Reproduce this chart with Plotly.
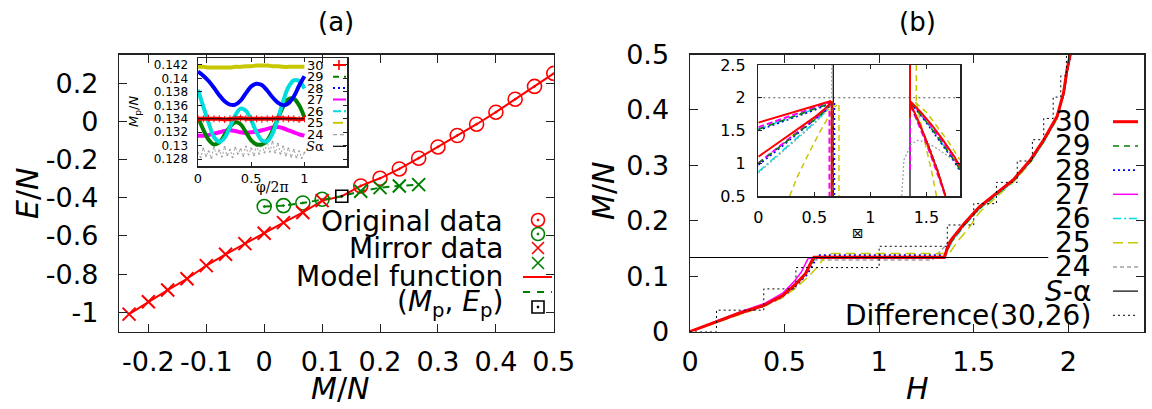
import plotly.graph_objects as go

W, HGT = 1152, 409
FONT = "DejaVu Sans"


def fx(p):
    return p / W


def fy(p):
    return 1 - p / HGT


# ---------------- Panel (a): main data ----------------
orig_red_M = [0.1667, 0.2, 0.2333, 0.2667, 0.3, 0.3333, 0.3667, 0.4, 0.4333, 0.4667, 0.5]
orig_red_E = [-0.338, -0.298, -0.249, -0.193, -0.134, -0.074, -0.015, 0.048, 0.116, 0.183, 0.251]
mirror_red_M = [-0.2333, -0.2, -0.1667, -0.1333, -0.1, -0.0667, -0.0333, 0.0, 0.0333, 0.0667, 0.1]
mirror_red_E = [-1.009, -0.944, -0.883, -0.824, -0.755, -0.696, -0.640, -0.586, -0.530, -0.477, -0.415]
orig_green_M = [0.0, 0.0333, 0.0667, 0.1]
orig_green_E = [-0.446, -0.441, -0.427, -0.408]
mirror_green_M = [0.1667, 0.2, 0.2333, 0.2667]
mirror_green_E = [-0.366, -0.347, -0.338, -0.331]
Mp_val = [0.134]
Ep_val = [-0.392]

a_xticks = [-0.2, -0.1, 0, 0.1, 0.2, 0.3, 0.4, 0.5]
a_xlabels = ["-0.2", "-0.1", "0", "0.1", "0.2", "0.3", "0.4", "0.5"]
a_yticks = [0.2, 0, -0.2, -0.4, -0.6, -0.8, -1]
a_ylabels = ["0.2", "0", "-0.2", "-0.4", "-0.6", "-0.8", "-1"]

# ---------------- Panel (a): inset data ----------------
phi = [0, 0.05, 0.1, 0.15, 0.2, 0.25, 0.3, 0.35, 0.4, 0.45, 0.5,
       0.55, 0.6, 0.65, 0.7, 0.75, 0.8, 0.85, 0.9, 0.95, 1.0]
mp30 = [0.1340, 0.1340, 0.1341, 0.1340, 0.1340, 0.1339, 0.1340, 0.1340, 0.1341, 0.1340, 0.1340,
        0.1340, 0.1339, 0.1340, 0.1340, 0.1341, 0.1340, 0.1340, 0.1340, 0.1339, 0.1340]
mp29 = [0.1342, 0.1324, 0.1309, 0.1302, 0.1305, 0.1316, 0.1328, 0.1335, 0.1332, 0.1320, 0.1308,
        0.1302, 0.1302, 0.1308, 0.1322, 0.1340, 0.1358, 0.1369, 0.1370, 0.1360, 0.1342]
mp28 = [0.1410, 0.1404, 0.1396, 0.1386, 0.1375, 0.1366, 0.1361, 0.1361, 0.1367, 0.1378, 0.1388,
        0.1392, 0.1390, 0.1382, 0.1372, 0.1364, 0.1360, 0.1363, 0.1373, 0.1389, 0.1403]
mp27 = [0.1315, 0.1315, 0.1316, 0.1318, 0.1320, 0.1322, 0.1323, 0.1322, 0.1320, 0.1319, 0.1320,
        0.1321, 0.1323, 0.1325, 0.1327, 0.1328, 0.1326, 0.1323, 0.1320, 0.1317, 0.1315]
mp26 = [0.1383, 0.1358, 0.1334, 0.1313, 0.1306, 0.1312, 0.1328, 0.1345, 0.1355, 0.1352, 0.1338,
        0.1320, 0.1308, 0.1307, 0.1318, 0.1340, 0.1366, 0.1387, 0.1397, 0.1396, 0.1385]
mp25 = [0.1417, 0.1417, 0.1416, 0.1416, 0.1416, 0.1416, 0.1416, 0.1417, 0.1417, 0.1418, 0.1418,
        0.1419, 0.1419, 0.1419, 0.1418, 0.1418, 0.1417, 0.1417, 0.1417, 0.1417, 0.1417]
phi_fine = [0, 0.025, 0.05, 0.075, 0.1, 0.125, 0.15, 0.175, 0.2, 0.225, 0.25, 0.275, 0.3, 0.325,
            0.35, 0.375, 0.4, 0.425, 0.45, 0.475, 0.5, 0.525, 0.55, 0.575, 0.6, 0.625, 0.65,
            0.675, 0.7, 0.725, 0.75, 0.775, 0.8, 0.825, 0.85, 0.875, 0.9, 0.925, 0.95, 0.975, 1.0]
mp24 = [0.1290, 0.1283, 0.1296, 0.1285, 0.1292, 0.1282, 0.1297, 0.1287, 0.1293, 0.1284, 0.1298,
        0.1286, 0.1294, 0.1283, 0.1297, 0.1288, 0.1295, 0.1285, 0.1299, 0.1287, 0.1296, 0.1286,
        0.1300, 0.1288, 0.1302, 0.1290, 0.1305, 0.1291, 0.1306, 0.1290, 0.1303, 0.1288, 0.1299,
        0.1286, 0.1296, 0.1284, 0.1294, 0.1283, 0.1292, 0.1282, 0.1290]
sa_phi = [0, 1.0]
sa_mp = [0.1340, 0.1340]

ain_xticks = [0, 0.5, 1]
ain_xlabels = ["0", "0.5", "1"]
ain_yticks = [0.128, 0.130, 0.132, 0.134, 0.136, 0.138, 0.140, 0.142]
ain_ylabels = ["0.128", "0.13", "0.132", "0.134", "0.136", "0.138", "0.14", "0.142"]

# ---------------- Panel (b): main data ----------------
H30 = [0, 0.14, 0.26, 0.39, 0.49, 0.56, 0.61, 0.64, 0.655, 1.345, 1.36, 1.38, 1.45, 1.53, 1.62, 1.71, 1.80, 1.87, 1.94, 1.975, 1.993, 2.01]
M30 = [0, 0.018, 0.033, 0.047, 0.065, 0.086, 0.104, 0.125, 0.134, 0.134, 0.150, 0.165, 0.195, 0.225, 0.249, 0.274, 0.310, 0.346, 0.388, 0.431, 0.473, 0.5]
H29 = [0, 0.14, 0.26, 0.39, 0.49, 0.56, 0.61, 0.645, 0.66, 1.345, 1.36, 1.39, 1.45, 1.53, 1.62, 1.71, 1.80, 1.87, 1.94, 1.975, 1.995, 2.01]
M29 = [0, 0.017, 0.032, 0.046, 0.064, 0.084, 0.102, 0.124, 0.133, 0.133, 0.148, 0.166, 0.192, 0.222, 0.247, 0.272, 0.307, 0.343, 0.385, 0.428, 0.470, 0.5]
H28 = [0, 0.14, 0.26, 0.39, 0.49, 0.56, 0.62, 0.66, 0.68, 1.35, 1.365, 1.39, 1.45, 1.53, 1.62, 1.71, 1.80, 1.87, 1.94, 1.975, 1.995, 2.015]
M28 = [0, 0.017, 0.032, 0.046, 0.063, 0.083, 0.103, 0.127, 0.138, 0.138, 0.152, 0.168, 0.193, 0.223, 0.248, 0.273, 0.308, 0.344, 0.386, 0.429, 0.471, 0.5]
H27 = [0, 0.14, 0.26, 0.39, 0.49, 0.55, 0.59, 0.61, 0.625, 1.345, 1.355, 1.38, 1.45, 1.53, 1.62, 1.71, 1.80, 1.87, 1.94, 1.975, 1.993, 2.01]
M27 = [0, 0.019, 0.035, 0.050, 0.069, 0.090, 0.108, 0.122, 0.132, 0.132, 0.150, 0.166, 0.196, 0.226, 0.250, 0.275, 0.311, 0.347, 0.389, 0.432, 0.474, 0.5]
H26 = [0, 0.14, 0.26, 0.39, 0.49, 0.56, 0.61, 0.645, 0.665, 1.35, 1.365, 1.39, 1.45, 1.53, 1.62, 1.71, 1.80, 1.87, 1.94, 1.975, 1.995, 2.012]
M26 = [0, 0.018, 0.032, 0.046, 0.064, 0.085, 0.103, 0.125, 0.134, 0.134, 0.149, 0.164, 0.191, 0.221, 0.246, 0.271, 0.306, 0.342, 0.384, 0.427, 0.469, 0.5]
H25 = [0, 0.14, 0.26, 0.39, 0.49, 0.56, 0.62, 0.67, 0.71, 0.73, 1.37, 1.39, 1.42, 1.47, 1.53, 1.62, 1.71, 1.80, 1.87, 1.94, 1.975, 1.995, 2.012]
M25 = [0, 0.016, 0.031, 0.045, 0.061, 0.079, 0.097, 0.115, 0.133, 0.141, 0.141, 0.150, 0.165, 0.185, 0.215, 0.243, 0.270, 0.305, 0.342, 0.384, 0.428, 0.470, 0.5]
H24 = [0, 0.14, 0.26, 0.39, 0.49, 0.56, 0.61, 0.64, 0.655, 1.28, 1.31, 1.35, 1.40, 1.45, 1.53, 1.62, 1.71, 1.80, 1.87, 1.94, 1.975, 1.995, 2.012]
M24 = [0, 0.018, 0.033, 0.047, 0.065, 0.086, 0.104, 0.122, 0.129, 0.129, 0.140, 0.155, 0.175, 0.193, 0.223, 0.248, 0.273, 0.308, 0.344, 0.386, 0.429, 0.471, 0.5]
Hsa = [0, 1.894]
Msa = [0.1336, 0.1336]
Hdiff = [0.0, 0.14, 0.39, 0.56, 1.00, 1.36, 1.50, 1.62, 1.73, 1.81, 1.87, 1.92, 1.96, 1.99]
Mdiff = [0.0, 0.0385, 0.0769, 0.1154, 0.1538, 0.1923, 0.2308, 0.2692, 0.3077, 0.3462, 0.3846, 0.4231, 0.4615, 0.5]

b_xticks = [0, 0.5, 1, 1.5, 2]
b_xlabels = ["0", "0.5", "1", "1.5", "2"]
b_yticks = [0, 0.1, 0.2, 0.3, 0.4, 0.5]
b_ylabels = ["0", "0.1", "0.2", "0.3", "0.4", "0.5"]

# ---------------- Panel (b): inset data ----------------
XL = [0, 0.1, 0.2, 0.3, 0.4, 0.5, 0.6, 0.65]
XR = [1.36, 1.45, 1.55, 1.65, 1.75, 1.8]
XRL = [1.36, 1.42, 1.48, 1.54, 1.60, 1.67]
in30_up = [1.62, 1.67, 1.72, 1.77, 1.82, 1.87, 1.92, 1.95]
in30_lo = [1.10, 1.22, 1.34, 1.46, 1.58, 1.70, 1.84, 1.93]
in30_rup = [1.94, 1.78, 1.58, 1.35, 1.10, 0.95]
in30_rlo = [1.90, 1.68, 1.43, 1.17, 0.88, 0.50]
in29_up = [1.52, 1.58, 1.64, 1.70, 1.76, 1.82, 1.89, 1.93]
in29_lo = [1.00, 1.13, 1.26, 1.40, 1.53, 1.66, 1.81, 1.92]
in29_rup = [1.92, 1.74, 1.52, 1.28, 1.04, 0.90]
in29_rlo = [1.90, 1.67, 1.43, 1.17, 0.89, 0.50]
in28_up = [1.50, 1.56, 1.62, 1.69, 1.75, 1.81, 1.88, 1.92]
in28_lo = [0.97, 1.10, 1.24, 1.38, 1.52, 1.65, 1.80, 1.92]
in28_rup = [1.92, 1.73, 1.50, 1.26, 1.02, 0.88]
in28_rlo = [1.90, 1.68, 1.44, 1.18, 0.90, 0.50]
in27_up = [1.55, 1.61, 1.67, 1.72, 1.78, 1.84, 1.90, 1.94]
in27_lo = [1.00, 1.14, 1.28, 1.41, 1.54, 1.67, 1.82, 1.93]
in27_rup = [1.93, 1.76, 1.55, 1.32, 1.07, 0.93]
in27_rlo = [1.88, 1.64, 1.39, 1.12, 0.83, 0.50]
in26_up = [1.52, 1.58, 1.64, 1.70, 1.76, 1.82, 1.89, 1.93]
in26_lo = [0.87, 1.02, 1.17, 1.32, 1.47, 1.62, 1.79, 1.91]
in26_rup = [1.92, 1.74, 1.52, 1.28, 1.04, 0.90]
in26_rlo = [1.89, 1.66, 1.42, 1.16, 0.88, 0.50]
in24_lo = [0.85, 1.00, 1.15, 1.30, 1.45, 1.60, 1.78, 1.90]
drop_x = {"30": 0.655, "29": 0.66, "28": 0.68, "27": 0.635, "26": 0.665}
rvert_bottom = {"30": 1.7, "29": 1.9, "28": 1.9, "27": 0.9, "26": 1.85}
in25_up_x = [0.30, 0.40, 0.50, 0.60, 0.68]
in25_up_y = [1.42, 1.55, 1.67, 1.79, 1.88]
in25_lo_x = [0.28, 0.35, 0.45, 0.55, 0.65, 0.70]
in25_lo_y = [0.50, 0.80, 1.15, 1.48, 1.78, 1.89]
in25_r_x = [1.40, 1.50, 1.60, 1.70, 1.80]
in25_r_y = [1.93, 1.78, 1.55, 1.32, 1.05]
in25_rl_x = [1.41, 1.45, 1.50, 1.55, 1.59]
in25_rl_y = [1.93, 1.60, 1.22, 0.85, 0.50]
in24_r_x = [1.28, 1.30, 1.36, 1.42, 1.50, 1.60, 1.70, 1.80]
in24_r_y = [0.50, 1.05, 1.28, 1.35, 1.32, 1.22, 1.10, 0.98]
ins_vlines = [0.669, 1.354]
ins_hline = 2.0

bin_xticks = [0, 0.5, 1, 1.5]
bin_xlabels = ["0", "0.5", "1", "1.5"]
bin_yticks = [0.5, 1, 1.5, 2, 2.5]
bin_ylabels = ["0.5", "1", "1.5", "2", "2.5"]

# series styles
COL = {"30": "#ff0000", "29": "#008000", "28": "#0000ff", "27": "#ff00ff",
       "26": "#00dddd", "25": "#c8c800", "24": "#a0a0a0"}
DASH = {"30": "solid", "29": "6px,5px", "28": "2px,3px", "27": "solid",
        "26": "8px,3px,2px,3px", "25": "10px,5px", "24": "4px,3px"}
WID = {"30": 3, "29": 1.5, "28": 1.8, "27": 1.5, "26": 1.5, "25": 1.5, "24": 1.5}

fig = go.Figure()

# ---- panel (a) main ----
fig.add_trace(go.Scatter(x=mirror_red_M + Mp_val + orig_red_M, y=mirror_red_E + Ep_val + orig_red_E,
                         mode="lines", line=dict(color="#ff0000", width=2), xaxis="x", yaxis="y"))
fig.add_trace(go.Scatter(x=orig_green_M + Mp_val + mirror_green_M, y=orig_green_E + Ep_val + mirror_green_E,
                         mode="lines", line=dict(color="#008000", width=2, dash="7px,5px"), xaxis="x", yaxis="y"))
fig.add_trace(go.Scatter(x=orig_red_M, y=orig_red_E, mode="markers",
                         marker=dict(symbol="circle-open-dot", size=14, color="#ff0000", line=dict(width=1.6)),
                         xaxis="x", yaxis="y"))
fig.add_trace(go.Scatter(x=orig_green_M, y=orig_green_E, mode="markers",
                         marker=dict(symbol="circle-open-dot", size=14, color="#008000", line=dict(width=1.6)),
                         xaxis="x", yaxis="y"))
fig.add_trace(go.Scatter(x=mirror_red_M, y=mirror_red_E, mode="markers",
                         marker=dict(symbol="x-thin-open", size=13, color="#ff0000", line=dict(width=2, color="#ff0000")),
                         xaxis="x", yaxis="y"))
fig.add_trace(go.Scatter(x=mirror_green_M, y=mirror_green_E, mode="markers",
                         marker=dict(symbol="x-thin-open", size=13, color="#008000", line=dict(width=2, color="#008000")),
                         xaxis="x", yaxis="y"))
fig.add_trace(go.Scatter(x=Mp_val, y=Ep_val, mode="markers",
                         marker=dict(symbol="square-open-dot", size=12, color="#000000", line=dict(width=1.6)),
                         xaxis="x", yaxis="y"))

# ---- panel (a) inset ----
for key, vals in [("24", mp24), ("27", mp27), ("29", mp29), ("26", mp26), ("28", mp28), ("25", mp25)]:
    xs = phi_fine if key == "24" else phi
    fig.add_trace(go.Scatter(x=xs, y=vals, mode="lines+markers" if key == "24" else "lines",
                             line=dict(color=COL[key], width=1 if key == "24" else 4, shape="spline",
                                       dash="2px,2px" if key == "24" else "solid"),
                             marker=dict(size=2, color=COL[key]),
                             xaxis="x2", yaxis="y2"))
fig.add_trace(go.Scatter(x=phi, y=mp30, mode="lines+markers",
                         line=dict(color="#ff0000", width=4),
                         marker=dict(symbol="line-ns-open", size=5, color="#ff0000", line=dict(width=1, color="#ff0000")),
                         xaxis="x2", yaxis="y2"))
fig.add_trace(go.Scatter(x=sa_phi, y=sa_mp, mode="lines", line=dict(color="#000000", width=1),
                         xaxis="x2", yaxis="y2"))

# ---- panel (b) main ----
bmain = [("24", H24, M24), ("25", H25, M25), ("26", H26, M26), ("27", H27, M27),
         ("28", H28, M28), ("29", H29, M29), ("30", H30, M30)]
for key, hx, my in bmain:
    fig.add_trace(go.Scatter(x=hx, y=my, mode="lines", line=dict(color=COL[key], width=WID[key], dash=DASH[key]),
                             xaxis="x3", yaxis="y3"))
fig.add_trace(go.Scatter(x=Hsa, y=Msa, mode="lines", line=dict(color="#000000", width=1.2),
                         xaxis="x3", yaxis="y3"))
fig.add_trace(go.Scatter(x=Hdiff + [2.05], y=Mdiff + [0.5], mode="lines",
                         line=dict(color="#000000", width=1, dash="2px,3px", shape="hv"),
                         xaxis="x3", yaxis="y3"))

# ---- panel (b) inset ----
fig.add_trace(go.Scatter(x=[0, 1.8], y=[ins_hline, ins_hline], mode="lines",
                         line=dict(color="#555555", width=1, dash="2px,3px"), xaxis="x4", yaxis="y4"))
fig.add_trace(go.Scatter(x=[ins_vlines[0], ins_vlines[0], None, ins_vlines[1], ins_vlines[1]],
                         y=[0.5, 2.5, None, 0.5, 2.5], mode="lines",
                         line=dict(color="#000000", width=1.2), xaxis="x4", yaxis="y4"))
fig.add_trace(go.Scatter(x=XL + [None, 0.655, 0.655, None] + in24_r_x,
                         y=in24_lo + [None, 2.0, 2.5, None] + in24_r_y, mode="lines",
                         line=dict(color=COL["24"], width=1.2, dash="2px,2px"), xaxis="x4", yaxis="y4"))
fig.add_trace(go.Scatter(x=in25_up_x + [None] + in25_lo_x + [None, 0.72, 0.72, None, 1.41, 1.41, None]
                         + in25_r_x + [None] + in25_rl_x,
                         y=in25_up_y + [None] + in25_lo_y + [None, 1.89, 0.5, None, 2.5, 1.93, None]
                         + in25_r_y + [None] + in25_rl_y, mode="lines",
                         line=dict(color=COL["25"], width=1.5, dash="6px,4px"), xaxis="x4", yaxis="y4"))
inset_b = [("26", in26_up, in26_lo, in26_rup, in26_rlo), ("27", in27_up, in27_lo, in27_rup, in27_rlo),
           ("28", in28_up, in28_lo, in28_rup, in28_rlo), ("29", in29_up, in29_lo, in29_rup, in29_rlo),
           ("30", in30_up, in30_lo, in30_rup, in30_rlo)]
for key, up, lo, rup, rlo in inset_b:
    dx = drop_x[key]
    fig.add_trace(go.Scatter(
        x=XL + [None] + XL + [None, dx, dx, None, 1.354, 1.354, None] + XR + [None] + XRL,
        y=up + [None] + lo + [None, up[-1], 0.5, None, 2.5, rvert_bottom[key], None] + rup + [None] + rlo,
        mode="lines",
        line=dict(color=COL[key], width=2 if key in ("30", "27") else 1.5,
                  dash="6px,3px" if key == "27" else DASH[key]),
        xaxis="x4", yaxis="y4"))

# dummy traces so that the mirrored tick axes exist
for xa, ya in [("x6", "y"), ("x", "y6"), ("x7", "y3"), ("x3", "y7")]:
    fig.add_trace(go.Scatter(x=[None], y=[None], mode="lines", xaxis=xa, yaxis=ya, hoverinfo="skip"))


# ---- legend keys (overlay, pixel axes) ----
def key_line(x0, x1, y, color, width, dash="solid"):
    fig.add_trace(go.Scatter(x=[x0, x1], y=[y, y], mode="lines",
                             line=dict(color=color, width=width, dash=dash), xaxis="x5", yaxis="y5"))


def key_marker(x, y, symbol, color, size):
    fig.add_trace(go.Scatter(x=[x], y=[y], mode="markers",
                             marker=dict(symbol=symbol, size=size, color=color, line=dict(width=1.6, color=color)),
                             xaxis="x5", yaxis="y5"))


key_marker(538, 220, "circle-open-dot", "#ff0000", 13)
key_marker(538, 234, "circle-open-dot", "#008000", 13)
key_marker(538, 248, "x-thin-open", "#ff0000", 12)
key_marker(538, 263, "x-thin-open", "#008000", 12)
key_line(523, 552, 277, "#ff0000", 2)
key_line(523, 552, 292, "#008000", 2, "7px,7px")
key_marker(538, 307, "square-open-dot", "#000000", 12)
ain_rows = [65, 76.7, 88, 99.5, 111.2, 122.8, 134.6, 146.3]
ain_keys = ["30", "29", "28", "27", "26", "25", "24"]
for r, k in zip(ain_rows, ain_keys):
    key_line(333, 346, r, COL[k], 2 if k != "24" else 1.2, "solid" if k in ("30", "27") else DASH[k])
key_marker(339, 65, "cross-thin-open", "#ff0000", 7)
key_line(333, 346, ain_rows[7], "#000000", 1.2)
b_rows = [121.7, 145.9, 170.1, 194.3, 218.5, 242.7, 266.9, 291.1, 315.3]
b_keys = ["30", "29", "28", "27", "26", "25", "24"]
for r, k in zip(b_rows, b_keys):
    key_line(1113, 1138, r, COL[k], WID[k], DASH[k])
key_line(1113, 1138, b_rows[7], "#000000", 1.2)
key_line(1113, 1138, b_rows[8], "#000000", 1, "2px,3px")


# ---- axes ----
def ax(domain, rng, tv, tt, fs, tlen, standoff, anchor, mirror="ticks", labels=True):
    d = dict(range=rng, tickvals=tv, ticktext=tt, ticks="inside", ticklen=tlen, automargin=False,
             tickwidth=1, tickcolor="#222222", showline=True, linecolor="#222222", linewidth=1.5,
             mirror=mirror, showgrid=False, zeroline=False, anchor=anchor, showticklabels=labels,
             tickfont=dict(family=FONT, size=fs, color="#000000"), ticklabelstandoff=standoff)
    if domain is not None:
        d["domain"] = domain
    return d


A_X = [fx(119.4), fx(553.8)]
A_Y = [fy(331.5), fy(54.5)]
AI_X = [fx(198), fx(347)]
AI_Y = [fy(166), fy(58.1)]
B_X = [fx(690), fx(1144)]
B_Y = [fy(331.5), fy(54.5)]
BI_X = [fx(758.3), fx(960)]
BI_Y = [fy(196), fy(65)]

x6 = ax(None, [-0.25, 0.5], a_xticks, a_xlabels, 28, 8, 6, "y", mirror=False, labels=False)
x6.update(overlaying="x", side="top")
y6 = ax(None, [-1.1, 0.35], a_yticks, a_ylabels, 28, 8, 14, "x", mirror=False, labels=False)
y6.update(overlaying="y", side="right")
x7 = ax(None, [0, 2.4], b_xticks, b_xlabels, 28, 8, 6, "y3", mirror=False, labels=False)
x7.update(overlaying="x3", side="top")
y7 = ax(None, [0, 0.5], b_yticks, b_ylabels, 28, 8, 14, "x3", mirror=False, labels=False)
y7.update(overlaying="y3", side="right")

fig.update_layout(
    template="none",
    width=W, height=HGT, margin=dict(l=0, r=0, t=0, b=0, pad=0), autosize=False,
    paper_bgcolor="white", plot_bgcolor="rgba(0,0,0,0)", showlegend=False, hovermode=False,
    xaxis=ax(A_X, [-0.25, 0.5], a_xticks, a_xlabels, 27, 8, 6, "y", mirror=False),
    yaxis=ax(A_Y, [-1.1, 0.35], a_yticks, a_ylabels, 27, 8, 14, "x", mirror=False),
    xaxis2=ax(AI_X, [0, 1.4], ain_xticks, ain_xlabels, 13, 4, 0, "y2"),
    yaxis2=ax(AI_Y, [0.127, 0.143], ain_yticks, ain_ylabels, 12, 4, 6, "x2"),
    xaxis3=ax(B_X, [0, 2.4], b_xticks, b_xlabels, 27, 8, 6, "y3", mirror=False),
    yaxis3=ax(B_Y, [0, 0.5], b_yticks, b_ylabels, 27, 8, 14, "x3", mirror=False),
    xaxis4=ax(BI_X, [0, 1.8], bin_xticks, bin_xlabels, 16, 4, 6, "y4"),
    yaxis4=ax(BI_Y, [0.5, 2.5], bin_yticks, bin_ylabels, 16, 4, 8, "x4"),
    xaxis5=dict(domain=[0, 1], range=[0, W], visible=False, anchor="y5", fixedrange=True, automargin=False),
    yaxis5=dict(domain=[0, 1], range=[HGT, 0], visible=False, anchor="x5", fixedrange=True, automargin=False),
    xaxis6=x6, yaxis6=y6, xaxis7=x7, yaxis7=y7,
)

fig.add_shape(type="rect", xref="paper", yref="paper", x0=AI_X[0], x1=AI_X[1], y0=AI_Y[0], y1=AI_Y[1],
              fillcolor="white", line=dict(width=0), layer="below")
fig.add_shape(type="rect", xref="paper", yref="paper", x0=BI_X[0], x1=BI_X[1], y0=BI_Y[0], y1=BI_Y[1],
              fillcolor="white", line=dict(width=0), layer="below")


def text(x, y, s, size, xanchor="center", angle=0, family=FONT):
    fig.add_annotation(x=fx(x), y=fy(y), xref="paper", yref="paper", text=s, showarrow=False,
                       xanchor=xanchor, yanchor="middle", textangle=angle,
                       font=dict(family=family, size=size, color="#000000"))


text(336, 22, "(a)", 26)
text(917, 22, "(b)", 26)
text(27, 193, "<i>E</i>/<i>N</i>", 30, angle=-90)
text(340, 388, "<i>M</i>/<i>N</i>", 30)
text(603, 191, "<i>M</i>/<i>N</i>", 30, angle=-90)
text(917, 388, "<i>H</i>", 30)

text(505, 221.7, "Original data", 28, "right")
text(505, 248, "Mirror data", 28, "right")
text(505, 276.7, "Model function", 28, "right")
text(505, 303, "(<i>M</i><sub>p</sub>, <i>E</i><sub>p</sub>)", 28, "right")

for r, lab in zip(ain_rows, ["30", "29", "28", "27", "26", "25", "24"]):
    text(326, r, lab, 13, "right")
text(326, ain_rows[7], "<i>S</i>α", 13, "right", family="DejaVu Serif")
text(135, 112, "<i>M</i><sub>p</sub>/<i>N</i>", 13, angle=-90)
text(272, 187, "φ/2π", 14, family="DejaVu Serif")

for r, lab in zip(b_rows, ["30", "29", "28", "27", "26", "25", "24"]):
    text(1093, r, lab, 28, "right")
text(1093, b_rows[7], "<i>S</i>-α", 28, "right")
text(1093, b_rows[8], "Difference(30,26)", 28, "right")
text(858, 233, "⊠", 14)

fig.write_html("out.html", config={"displayModeBar": False, "staticPlot": True},
               post_script="document.body.style.margin='0px';document.body.style.overflow='hidden';")
